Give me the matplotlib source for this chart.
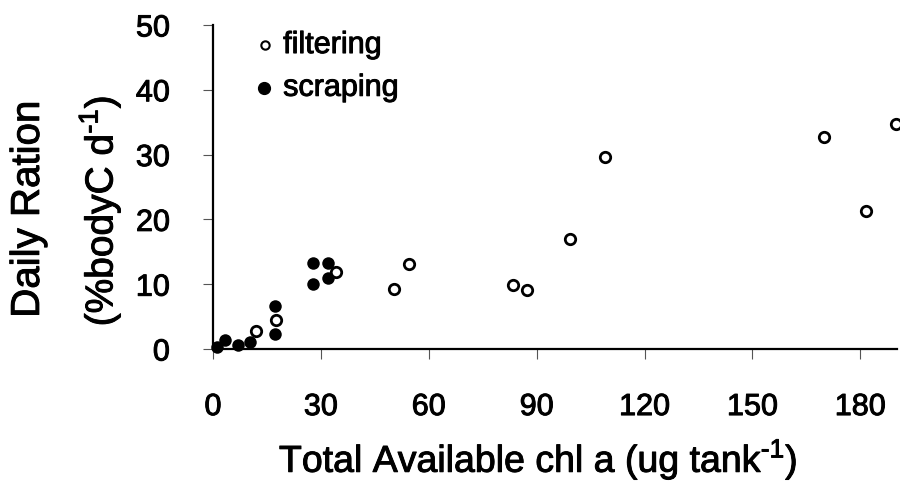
import matplotlib
matplotlib.use('Agg')
import matplotlib.pyplot as plt
import matplotlib.patheffects as pe

plt.rcParams['font.family'] = ['Liberation Sans', 'DejaVu Sans']
# scanned text looks slightly heavier than plain Arial
thick = [pe.withStroke(linewidth=0.7, foreground='black')]

# filtering (open circles)
filt_x = [11.9, 17.5, 34.2, 50.4, 54.6, 83.4, 87.3, 99.3, 108.9, 170.0, 181.7, 189.8]
filt_y = [2.8, 4.5, 11.9, 9.3, 13.1, 9.8, 9.1, 16.9, 29.7, 32.7, 21.3, 34.7]

# scraping (filled circles)
scr_x = [1.0, 3.2, 7.0, 10.3, 17.3, 17.3, 27.9, 27.9, 31.9, 31.9]
scr_y = [0.3, 1.4, 0.6, 1.1, 2.3, 6.7, 10.1, 13.2, 11.0, 13.3]

xticks = [0, 30, 60, 90, 120, 150, 180]
yticks = [0, 10, 20, 30, 40, 50]

fig = plt.figure(figsize=(9, 4.91), dpi=100)
ax = fig.add_axes([0.2367, 0.2892, 0.76, 0.66])

ax.plot(scr_x, scr_y, 'o', color='black', ms=9, mew=0, clip_on=False, zorder=3)
ax.plot(filt_x, filt_y, 'o', mfc='white', mec='black', ms=7.5, mew=2, clip_on=False, zorder=4)

ax.set_xlim(0, 190.2)
ax.set_ylim(0, 50)
ax.set_xticks(xticks)
ax.set_yticks(yticks)
ax.tick_params(axis='both', labelsize=22, length=7, width=0.8, color='#555555')
ax.tick_params(axis='x', direction='out', pad=24)
ax.tick_params(axis='y', direction='out', pad=24)
for lab in ax.get_xticklabels() + ax.get_yticklabels():
	lab.set_path_effects(thick)
for s in ['top', 'right']:
	ax.spines[s].set_visible(False)
for s in ['left', 'bottom']:
	ax.spines[s].set_linewidth(1.6)

xl = fig.text(0.598, 0.0387, 'Total Available chl a (ug tank$^{\\mathregular{\u20101}}$)',
	fontsize=27, ha='center', va='baseline')
xl.set_path_effects(thick)

t1 = fig.text(0.031, 0.574, 'Daily Ration', rotation=90, fontsize=29, ha='center', va='center')
t2 = fig.text(0.111, 0.570, '(%bodyC d$^{\\mathregular{\u20101}}$)', rotation=90, fontsize=28, ha='center', va='center')
t1.set_path_effects(thick)
t2.set_path_effects(thick)

# legend drawn by hand
ax.plot([14.5], [46.9], 'o', mfc='white', mec='black', ms=6, mew=1.5, clip_on=False)
l1 = ax.text(19.5, 46.9, 'filtering', fontsize=22, va='center')
ax.plot([14.3], [40.3], 'o', color='black', ms=8.5, clip_on=False)
l2 = ax.text(19.5, 40.3, 'scraping', fontsize=22, va='center')
l1.set_path_effects(thick)
l2.set_path_effects(thick)

fig.savefig('out.png', dpi=100)
